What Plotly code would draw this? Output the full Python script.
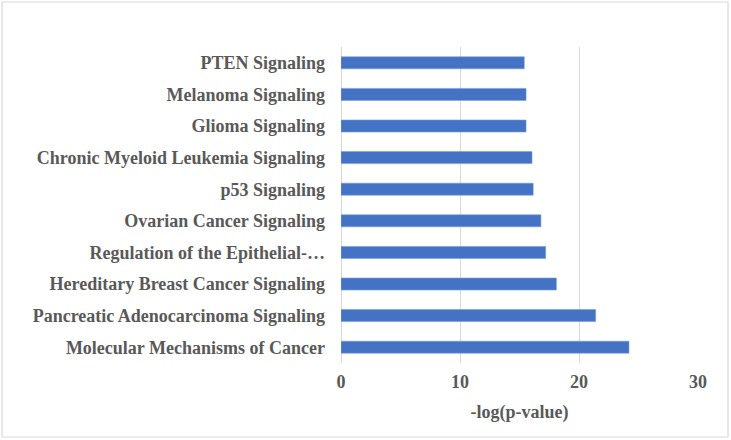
import plotly.graph_objects as go

pathways = [
    "Molecular Mechanisms of Cancer",
    "Pancreatic Adenocarcinoma Signaling",
    "Hereditary Breast Cancer Signaling",
    "Regulation of the Epithelial-…",
    "Ovarian Cancer Signaling",
    "p53 Signaling",
    "Chronic Myeloid Leukemia Signaling",
    "Glioma Signaling",
    "Melanoma Signaling",
    "PTEN Signaling",
]
neg_log_p = [24.2, 21.4, 18.1, 17.2, 16.8, 16.15, 16.05, 15.55, 15.55, 15.4]
x_ticks = [0, 10, 20, 30]

font_family = "Liberation Serif, Times New Roman, serif"
text_color = "#595959"
fs = 18

fig = go.Figure(
    go.Bar(
        x=neg_log_p,
        y=pathways,
        orientation="h",
        marker=dict(color="#4472C4", line=dict(color="#7a9ad6", width=0.6)),
        width=0.38,
    )
)

fig.update_layout(
    width=731,
    height=440,
    margin=dict(l=341, r=33, t=47, b=77),
    paper_bgcolor="white",
    plot_bgcolor="white",
    showlegend=False,
    font=dict(family=font_family, color=text_color, size=fs),
    xaxis=dict(
        range=[0, 30],
        tickvals=x_ticks,
        showgrid=True,
        gridcolor="#d9d9d9",
        gridwidth=1.3,
        zeroline=True,
        zerolinecolor="#d9d9d9",
        zerolinewidth=1.3,
        showline=False,
        ticks="",
        automargin=False,
        ticklabelstandoff=6,
        tickfont=dict(family=font_family, size=fs, color=text_color, weight="bold"),
        title=dict(
            text="-log(p-value)",
            font=dict(family=font_family, size=fs, color=text_color, weight="bold"),
            standoff=14,
        ),
    ),
    yaxis=dict(
        showgrid=False,
        zeroline=False,
        showline=False,
        ticks="",
        automargin=False,
        ticklabelstandoff=15,
        tickfont=dict(family=font_family, size=fs, color=text_color, weight="bold"),
    ),
    shapes=[
        dict(
            type="rect", xref="paper", yref="paper",
            x0=-339 / 357, x1=1 + 30 / 357, y0=-74 / 316, y1=1 + 45 / 316,
            line=dict(color="#d9d9d9", width=1.2), fillcolor="rgba(0,0,0,0)",
            layer="below",
        )
    ],
)

fig.write_html(
    "out.html",
    config={"displayModeBar": False},
    post_script="document.body.style.margin='0';document.body.style.padding='0';",
)
